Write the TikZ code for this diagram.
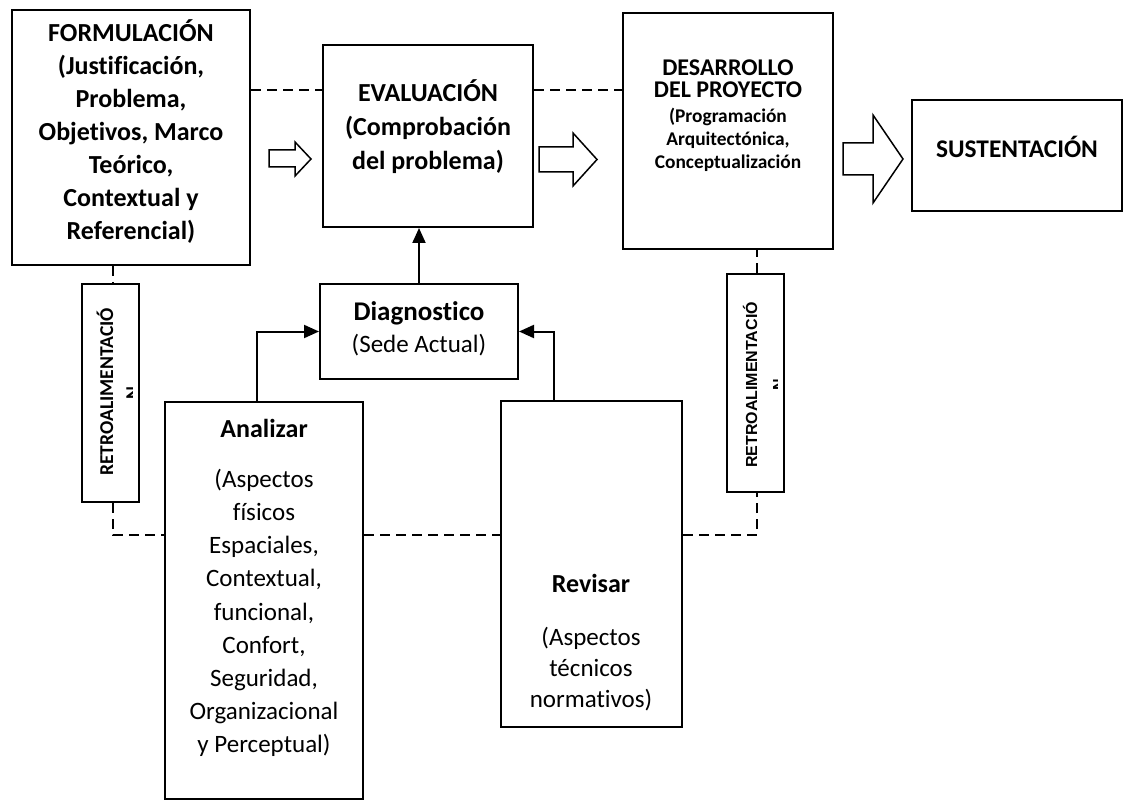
\documentclass[tikz,border=0pt]{standalone}
\usepackage{fontspec}
\setmainfont{Carlito}[Ligatures={NoCommon,NoContextual}]
\newfontfamily\arialf{Liberation Sans}
\usetikzlibrary{fit,arrows.meta}
\begin{document}
\begin{tikzpicture}[x=0.5pt,y=-0.5pt,
  box/.style={draw, line width=1pt, fill=white, inner sep=0pt},
  dline/.style={line width=1pt, dash pattern=on 5pt off 3pt},
  conn/.style={line width=1pt, -{Triangle[length=7.5pt,width=6.5pt]}},
  hollow/.style={draw, line width=0.75pt, fill=white, line join=miter},
  hd/.style={font=\bfseries\fontsize{13}{16.5}\selectfont, align=center, inner sep=0pt},
  rg/.style={font=\fontsize{12.5}{16.5}\selectfont, align=center, inner sep=0pt}]
\fill[white] (0,0) rectangle (1124,802);
\useasboundingbox (0,0) rectangle (1124,802);

% boxes
\node[box, fit={(12,10) (250,265)}] (form) {};
\node[box, fit={(323,45) (533,227)}] (eval) {};
\node[box, fit={(623,13) (833,249)}] (des) {};
\node[box, fit={(912,100) (1122,211)}] (sus) {};
\node[box, fit={(320,284) (518,379)}] (diag) {};
\node[box, fit={(82,284) (139,502)}] (retroL) {};
\node[box, fit={(727,274) (784,492)}] (retroR) {};
\node[box, fit={(165,402) (363,799)}] (ana) {};
\node[box, fit={(501,401) (682,727)}] (rev) {};

% texts
\node[hd, font=\bfseries\fontsize{13}{16.5}\selectfont] (formT) at (131,132)
  {FORMULACIÓN\\(Justificación,\\Problema,\\Objetivos, Marco\\Teórico,\\Contextual y\\Referencial)};
\node[hd, font=\bfseries\fontsize{13}{17}\selectfont] (evalT) at (428,127)
  {EVALUACIÓN\\(Comprobación\\del problema)};
\node[hd, font=\bfseries\fontsize{12}{11}\selectfont] (desH) at (728,79)
  {DESARROLLO\\DEL PROYECTO};
\node[hd, font=\bfseries\fontsize{9.7}{11.5}\selectfont] (desS) at (728,140)
  {(Programación\\Arquitectónica,\\Conceptualización};
\node[hd, font=\bfseries\fontsize{12.7}{14}\selectfont] (susT) at (1017,147) {SUSTENTACIÓN};
\node[hd, font=\bfseries\fontsize{13.5}{16}\selectfont] (diagH) at (419,313) {Diagnostico};
\node[rg] (diagS) at (419,345) {(Sede Actual)};
\node[hd] (anaH) at (264,428) {Analizar};
\node[rg, font=\fontsize{12.5}{16.6}\selectfont] (anaS) at (264,613)
  {(Aspectos\\físicos\\Espaciales,\\Contextual,\\funcional,\\Confort,\\Seguridad,\\Organizacional\\y Perceptual)};
\node[hd] (revH) at (591,583) {Revisar};
\node[rg, font=\fontsize{12.5}{15.5}\selectfont] (revS) at (591,669)
  {(Aspectos\\técnicos\\normativos)};

\node[rotate=90, inner sep=0pt, font=\bfseries\fontsize{9.8}{11}\selectfont] (retroLT) at (105,392) {RETROALIMENTACIÓ};
\node[rotate=90, inner sep=0pt, font=\arialf\bfseries\fontsize{8}{9}\selectfont] (retroRT) at (750,385) {RETROALIMENTACIÓ};
\begin{scope}
  \clip (120,380) rectangle (132,406);
  \node[rotate=90, anchor=base, inner sep=0pt, font=\bfseries\fontsize{9.8}{11}\selectfont] (nL) at (139,393) {N};
\end{scope}
\begin{scope}
  \clip (765,372) rectangle (777,398);
  \node[rotate=90, anchor=base, inner sep=0pt, font=\arialf\bfseries\fontsize{8}{9}\selectfont] (nR) at (784,385) {N};
\end{scope}

% hollow arrows
\draw[hollow] (269,150) -- (295,150) -- (295,142) -- (311,159) -- (295,176) -- (295,167) -- (269,167) -- cycle;
\draw[hollow] (539,147) -- (573,147) -- (573,133) -- (597,159.5) -- (573,186) -- (573,172) -- (539,172) -- cycle;
\draw[hollow] (843,143) -- (873,143) -- (873,115) -- (903,159) -- (873,203) -- (873,175) -- (843,175) -- cycle;

% dashed feedback lines
\coordinate (y90) at (0,90);
\coordinate (yB) at (0,535);
\coordinate (xL) at (113,0);
\coordinate (xR) at (757,0);
\draw[dline] (form.east |- y90) -- (eval.west |- y90);
\draw[dline] (eval.east |- y90) -- (des.west |- y90);
\draw[dline] (form.south -| xL) -- (retroL.north -| xL);
\draw[dline] (retroL.south -| xL) |- (ana.west |- yB);
\draw[dline] (ana.east |- yB) -- (rev.west |- yB);
\draw[dline] (rev.east |- yB) -| (retroR.south -| xR);
\draw[dline] (retroR.north -| xR) -- (des.south -| xR);

% solid connectors
\draw[conn] (diag.north) -- (diag.north |- eval.south);
\draw[conn] ([xshift=-3.5pt]ana.north) |- (diag.west);
\draw[conn] ([xshift=-18.75pt]rev.north) |- (diag.east);
\end{tikzpicture}
\end{document}
